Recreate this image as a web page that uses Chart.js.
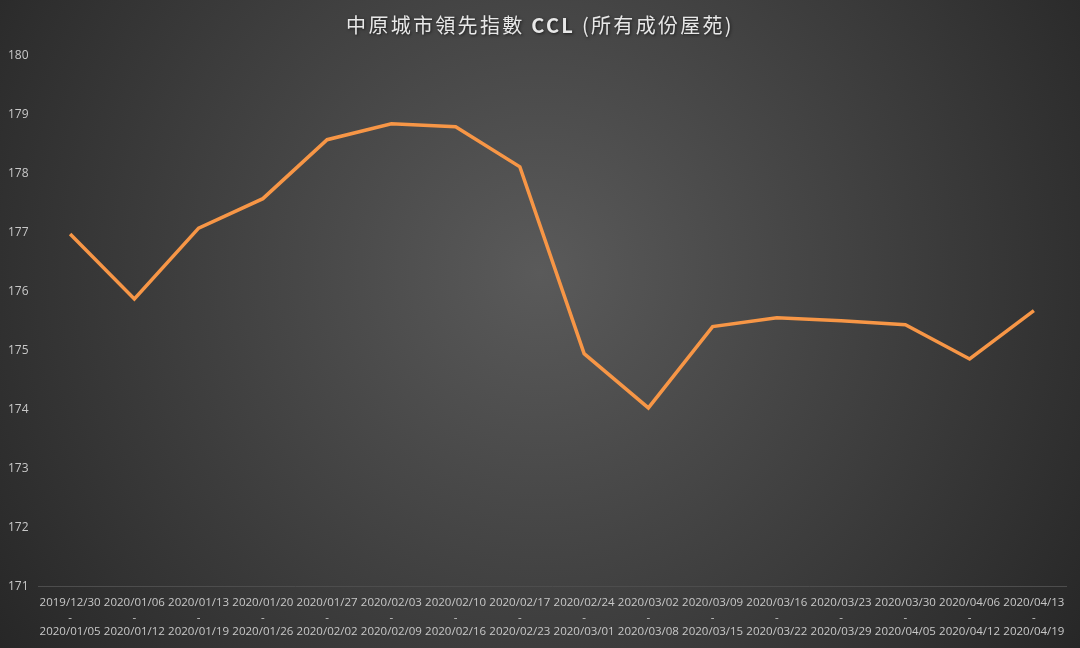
<!DOCTYPE html>
<html>
<head>
<meta charset="utf-8">
<script src="https://cdn.jsdelivr.net/npm/chart.js@4"></script>
<style>
  html, body { margin: 0; padding: 0; background: #2a2a2a; }
  #wrap { width: 1080px; height: 648px; }
</style>
</head>
<body>
<div id="wrap"><canvas id="myChart" width="1080" height="648"></canvas></div>
<script>
const weekStart = ['2019/12/30', '2020/01/06', '2020/01/13', '2020/01/20', '2020/01/27', '2020/02/03', '2020/02/10', '2020/02/17',
    '2020/02/24', '2020/03/02', '2020/03/09', '2020/03/16', '2020/03/23', '2020/03/30', '2020/04/06', '2020/04/13'];
const weekEnd = ['2020/01/05', '2020/01/12', '2020/01/19', '2020/01/26', '2020/02/02', '2020/02/09', '2020/02/16', '2020/02/23',
    '2020/03/01', '2020/03/08', '2020/03/15', '2020/03/22', '2020/03/29', '2020/04/05', '2020/04/12', '2020/04/19'];
const cclValues = [176.98, 175.88, 177.08, 177.58, 178.58, 178.85, 178.80, 178.12,
    174.95, 174.03, 175.41, 175.56, 175.51, 175.44, 174.86, 175.68];
const yMin = 171;
const yMax = 180;
const titleParts = [['中原城市領先指數 ', false], ['CCL', true], [' (所有成份屋苑)', false]];

const labels = weekStart.map((s, i) => [s, '-', weekEnd[i]]);
const fontCJK = '"Noto Sans CJK TC", "Noto Sans", sans-serif';

// background radial gradient, lighter in the middle
const bgPlugin = {
    id: 'bg',
    beforeDraw(chart) {
        const c = chart.ctx;
        const w = chart.width, h = chart.height;
        const g = c.createRadialGradient(w * 0.5, h * 0.42, 0, w * 0.5, h * 0.42, w * 0.62);
        g.addColorStop(0, '#5a5a5a');
        g.addColorStop(1, '#262626');
        c.save();
        c.fillStyle = g;
        c.fillRect(0, 0, w, h);
        c.restore();
    }
};

// title drawn by hand so it can have letter spacing and a bold "CCL"
const titlePlugin = {
    id: 'spacedTitle',
    afterDraw(chart) {
        const c = chart.ctx;
        c.save();
        c.letterSpacing = '2.3px';
        c.textBaseline = 'middle';
        let total = 0;
        const widths = titleParts.map(p => {
            c.font = (p[1] ? 'bold ' : '') + '20px ' + fontCJK;
            const w = c.measureText(p[0]).width;
            total += w;
            return w;
        });
        let x = chart.width / 2 - total / 2;
        c.fillStyle = '#e8e8e8';
        c.shadowColor = 'rgba(0,0,0,0.6)';
        c.shadowBlur = 3;
        c.shadowOffsetX = 1;
        c.shadowOffsetY = 1;
        titleParts.forEach((p, i) => {
            c.font = (p[1] ? 'bold ' : '') + '20px ' + fontCJK;
            c.fillText(p[0], x, 25);
            x += widths[i];
        });
        c.restore();
    }
};

const ctx = document.getElementById('myChart').getContext('2d');
const cclChart = new Chart(ctx, {
    type: 'line',
    data: {
        labels: labels,
        datasets: [{
            label: 'CCL',
            data: cclValues,
            borderColor: '#f79646',
            borderWidth: 3.5,
            pointRadius: 0,
            tension: 0,
            fill: false
        }]
    },
    options: {
        responsive: false,
        animation: false,
        layout: { padding: { left: 8, right: 14, top: 56, bottom: 0 } },
        plugins: {
            legend: { display: false },
            tooltip: { enabled: false },
            title: { display: false }
        },
        scales: {
            x: {
                offset: true,
                grid: { display: false, drawTicks: false },
                border: { display: true, color: '#4d4d4d', width: 1 },
                ticks: {
                    color: '#c8c8c8',
                    font: { family: '"Open Sans", "DejaVu Sans", sans-serif', size: 11.5, lineHeight: 1.26 },
                    maxRotation: 0,
                    autoSkip: false,
                    padding: 9
                }
            },
            y: {
                min: yMin,
                max: yMax,
                grid: { display: false, drawTicks: false },
                border: { display: false },
                afterFit(scale) { scale.width = 30; },
                ticks: {
                    stepSize: 1,
                    color: '#c8c8c8',
                    crossAlign: 'far',
                    font: { family: '"Open Sans", "DejaVu Sans", sans-serif', size: 12 },
                    padding: 6
                }
            }
        }
    },
    plugins: [bgPlugin, titlePlugin]
});
</script>
</body>
</html>
